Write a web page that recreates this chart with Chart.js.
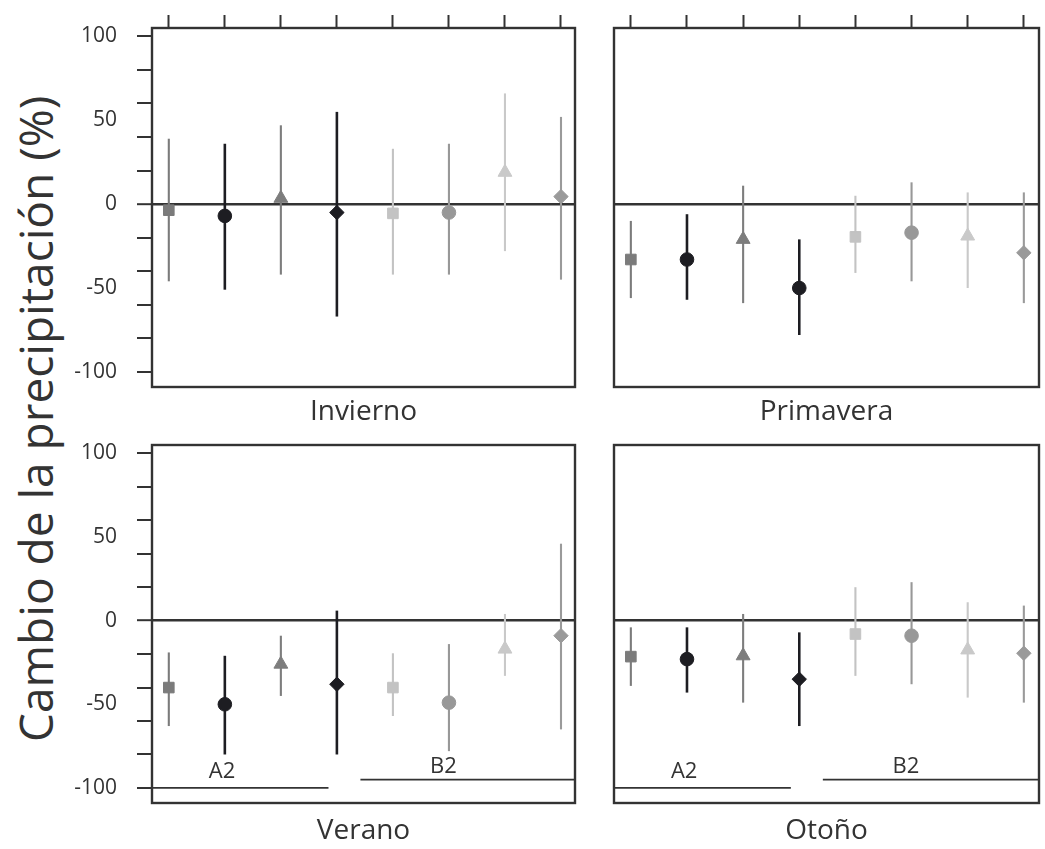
<!DOCTYPE html>
<html>
<head>
<meta charset="utf-8">
<script src="https://cdn.jsdelivr.net/npm/chart.js@4.4.1/dist/chart.umd.min.js"></script>
<style>
    html, body { margin: 0; padding: 0; background: #fff; overflow: hidden; width: 1045px; height: 849px; }
    canvas { position: absolute; }
    #ytitle {
        position: absolute; left: 12px; top: 742px;
        transform: rotate(-90deg); transform-origin: 0 0;
        white-space: nowrap; font-family: 'Open Sans'; font-size: 46px; line-height: 46px; color: #333;
    }
</style>
</head>
<body>
<div id="ytitle">Cambio de la precipitación (%)</div>
<canvas id="invierno" width="524" height="429" style="left:60px;top:0px"></canvas>
<canvas id="primavera" width="444" height="429" style="left:604px;top:0px"></canvas>
<canvas id="verano" width="524" height="428" style="left:60px;top:420px"></canvas>
<canvas id="otono" width="444" height="428" style="left:604px;top:420px"></canvas>
<script>
// 8 model runs per season: first four A2, last four B2
const models = [1, 2, 3, 4, 5, 6, 7, 8];

const inviernoMid  = [-3.6, -7, 3.5, -5, -5.5, -5, 19, 4.5];
const inviernoLow  = [-46, -51, -42, -67, -42, -42, -28, -45];
const inviernoHigh = [39, 36, 47, 55, 33, 36, 66, 52];

const primaveraMid  = [-33, -33, -21, -50, -19.5, -17, -19, -29];
const primaveraLow  = [-56, -57, -59, -78, -41, -46, -50, -59];
const primaveraHigh = [-10, -6, 11, -21, 5, 13, 7, 7];

const veranoMid  = [-40, -50, -26, -38, -40, -49, -17, -9];
const veranoLow  = [-63, -80, -45, -80, -57, -78, -33, -65];
const veranoHigh = [-19, -21, -9, 6, -19.5, -14, 4, 46];

const otonoMid  = [-21.5, -23, -21, -35, -8, -9, -17.5, -19.5];
const otonoLow  = [-39, -43, -49, -63, -33, -38, -46, -49];
const otonoHigh = [-4, -4, 4, -7, 20, 23, 11, 9];

const yTickMarks = [-100, -80, -60, -40, -20, 0, 20, 40, 60, 80, 100];
const yTickLabels = [-100, -50, 0, 50, 100];

// scenario brackets under the summer / autumn panels
const groupNames = ['A2', 'B2'];
const groupFrom = [0.7, 4.42];
const groupTo = [3.85, 8.3];
const groupLevel = [-100, -95];
const groupLabelAt = [1.95, 5.9];
const groupLabelLevel = [-94, -91];

const markerColors = ['#7b7b7b', '#1d1d22', '#7d7d7d', '#1d1d22', '#c3c3c3', '#989898', '#c9c9c9', '#9a9a9a'];
const defaultStyles = ['rect', 'circle', 'triangle', 'rectRot', 'rect', 'circle', 'triangle', 'rectRot'];
const springStyles  = ['rect', 'circle', 'triangle', 'circle', 'rect', 'circle', 'triangle', 'rectRot'];
const markerRadius = { rect: 7.5, circle: 6.8, triangle: 8, rectRot: 7.2 };

Chart.defaults.font.family = "'Open Sans'";
Chart.defaults.color = '#333';

const framePlugin = {
    id: 'frame',
    afterDraw(chart){
        const { ctx, chartArea: a } = chart;
        ctx.save();
        ctx.strokeStyle = '#333';
        ctx.lineWidth = 2.4;
        ctx.strokeRect(a.left, a.top, a.right - a.left, a.bottom - a.top);
        ctx.restore();
    }
};

const groupLabelPlugin = {
    id: 'groupLabels',
    afterDatasetsDraw(chart){
        const { ctx, scales } = chart;
        ctx.save();
        ctx.font = "22px 'Open Sans'";
        ctx.fillStyle = '#333';
        ctx.textAlign = 'center';
        ctx.textBaseline = 'alphabetic';
        groupNames.forEach((g, i) => {
            ctx.fillText(g, scales.x.getPixelForValue(groupLabelAt[i]), scales.y.getPixelForValue(groupLabelLevel[i]));
        });
        ctx.restore();
    }
};

const makePanel = function(canvasId, title, mid, low, high, styles, opts){
    const datasets = [];

    datasets.push({
        type: 'scatter',
        order: 0,
        data: models.map((m, i) => ({ x: m, y: mid[i] })),
        pointStyle: styles,
        pointRadius: styles.map(s => markerRadius[s]),
        pointBackgroundColor: markerColors,
        pointBorderColor: markerColors,
        pointBorderWidth: 1
    });

    models.forEach((m, i) => {
        datasets.push({
            type: 'line',
            order: 1,
            data: [{ x: m, y: low[i] }, { x: m, y: high[i] }],
            borderColor: markerColors[i],
            borderWidth: markerColors[i] === '#1d1d22' ? 2.6 : 2.1,
            pointRadius: 0,
            fill: false
        });
    });

    if(opts.groups){
        groupNames.forEach((g, i) => {
            datasets.push({
                type: 'line',
                order: 2,
                data: [{ x: groupFrom[i], y: groupLevel[i] }, { x: groupTo[i], y: groupLevel[i] }],
                borderColor: '#333',
                borderWidth: 1.8,
                pointRadius: 0,
                fill: false
            });
        });
    }

    new Chart(document.getElementById(canvasId), {
        type: 'scatter',
        data: { datasets: datasets },
        options: {
            responsive: false,
            animation: false,
            layout: { padding: { left: opts.padLeft, top: opts.padTop, right: 0, bottom: 0 } },
            plugins: { legend: { display: false }, tooltip: { enabled: false } },
            scales: {
                x: {
                    type: 'linear',
                    position: 'bottom',
                    min: 0.7,
                    max: opts.xMax,
                    afterFit: s => { s.height = opts.bottomH; },
                    border: { display: false },
                    grid: { display: false },
                    ticks: { display: false },
                    title: { display: true, text: title, font: { size: 28 }, color: '#333', padding: 0 }
                },
                xTop: {
                    type: 'linear',
                    position: 'top',
                    display: opts.topTicks,
                    min: 0.7,
                    max: opts.xMax,
                    afterBuildTicks: s => { s.ticks = models.map(v => ({ value: v })); },
                    afterFit: s => { s.height = opts.topTicks ? 28 : 0; },
                    border: { display: false },
                    grid: { drawOnChartArea: false, tickLength: 13, tickWidth: 2, tickColor: '#333' },
                    ticks: { display: false }
                },
                y: {
                    min: -109,
                    max: 105,
                    afterBuildTicks: s => {
                        s.ticks = yTickMarks.concat([-50, 50]).sort((a, b) => a - b).map(v => ({ value: v }));
                    },
                    afterFit: s => {
                        s.width = opts.showY ? 92 : 0;
                        // labels never overhang the frame, so no extra room is needed
                        s.paddingTop = 0;
                        s.paddingBottom = 0;
                    },
                    border: { display: false },
                    grid: {
                        drawTicks: opts.showY,
                        tickLength: 15,
                        tickWidth: 2,
                        tickColor: c => yTickMarks.includes(c.tick.value) ? '#333' : 'rgba(0,0,0,0)',
                        color: c => c.tick.value === 0 ? '#333' : 'rgba(0,0,0,0)',
                        lineWidth: c => c.tick.value === 0 ? 2.4 : 0
                    },
                    ticks: {
                        display: opts.showY,
                        padding: 20,
                        color: '#333',
                        font: { size: 21 },
                        callback: v => yTickLabels.includes(v) ? String(v) : ''
                    }
                }
            }
        },
        plugins: opts.groups ? [framePlugin, groupLabelPlugin] : [framePlugin]
    });
};

makePanel('invierno', 'Invierno', inviernoMid, inviernoLow, inviernoHigh, defaultStyles,
    { showY: true, topTicks: true, groups: false, padLeft: 0, padTop: 0, bottomH: 42, xMax: 8.25 });
makePanel('primavera', 'Primavera', primaveraMid, primaveraLow, primaveraHigh, springStyles,
    { showY: false, topTicks: true, groups: false, padLeft: 10, padTop: 0, bottomH: 42, xMax: 8.27 });
makePanel('verano', 'Verano', veranoMid, veranoLow, veranoHigh, defaultStyles,
    { showY: true, topTicks: false, groups: true, padLeft: 0, padTop: 25, bottomH: 45, xMax: 8.25 });
makePanel('otono', 'Otoño', otonoMid, otonoLow, otonoHigh, defaultStyles,
    { showY: false, topTicks: false, groups: true, padLeft: 10, padTop: 25, bottomH: 45, xMax: 8.27 });
</script>
</body>
</html>
